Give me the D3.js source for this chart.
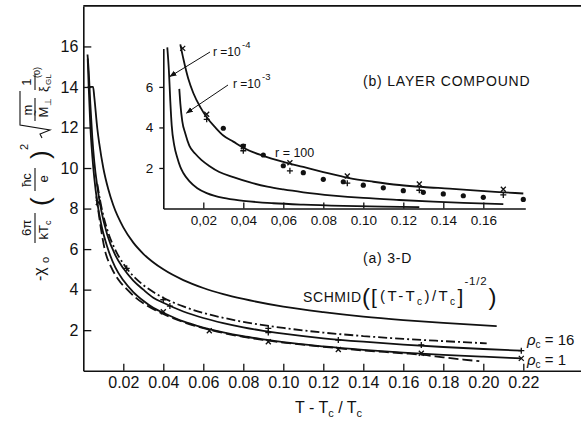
<!DOCTYPE html>
<html>
<head>
<meta charset="utf-8">
<script src="https://cdn.jsdelivr.net/npm/d3@7"></script>
<style>
  body { margin: 0; background: #fff; }
  text { font-family: "Liberation Sans", Arial, sans-serif; fill: #111; }
</style>
</head>
<body>
<svg id="chart" width="581" height="421"></svg>
<script>
// ---- main panel (a) 3-D ----
const mainTicksX = [0.02, 0.04, 0.06, 0.08, 0.10, 0.12, 0.14, 0.16, 0.18, 0.20, 0.22];
const mainTickLabelsX = ["0.02", "0.04", "0.06", "0.08", "0.10", "0.12", "0.14", "0.16", "0.18", "0.20", "0.22"];
const mainTicksY = [2, 4, 6, 8, 10, 12, 14, 16];

// [T-Tc/Tc, value]
const schmid = [[0.0022,14.0],[0.0049,14.0],[0.0055,13.5],[0.007,11.95],[0.008,11.2],[0.010,10.0],[0.0125,8.95],[0.015,8.16],
  [0.020,7.07],[0.025,6.32],[0.030,5.77],[0.040,5.0],[0.050,4.47],[0.060,4.08],[0.070,3.78],[0.080,3.54],
  [0.100,3.16],[0.120,2.89],[0.140,2.67],[0.160,2.5],[0.180,2.36],[0.2067,2.2]];
const rho16 = [[0.0021,15.6],[0.0027,14.8],[0.0035,13.2],[0.0045,11.5],[0.0055,10.3],[0.007,9.1],[0.009,7.9],[0.012,6.7],
  [0.016,5.7],[0.020,5.05],[0.025,4.45],[0.030,4.0],[0.035,3.6],[0.040,3.35],[0.050,2.92],[0.060,2.6],[0.070,2.35],
  [0.080,2.14],[0.090,1.97],[0.100,1.83],[0.120,1.6],[0.140,1.43],[0.160,1.29],[0.180,1.17],[0.200,1.07],[0.219,0.99]];
const rho1 = [[0.0022,15.4],[0.0027,14.0],[0.0035,12.1],[0.0045,10.6],[0.0055,9.5],[0.007,8.3],[0.009,7.2],[0.012,6.1],
  [0.016,5.1],[0.020,4.46],[0.025,3.88],[0.030,3.45],[0.035,3.1],[0.040,2.86],[0.050,2.43],[0.060,2.13],[0.070,1.89],
  [0.080,1.7],[0.090,1.55],[0.100,1.41],[0.120,1.2],[0.140,1.03],[0.160,0.89],[0.180,0.78],[0.200,0.69],[0.219,0.61]];
const dashDot = [[0.007,9.2],[0.009,8.1],[0.012,6.95],[0.016,5.96],[0.020,5.28],[0.025,4.67],[0.030,4.23],[0.035,3.88],
  [0.040,3.6],[0.050,3.17],[0.060,2.85],[0.070,2.61],[0.080,2.41],[0.090,2.25],[0.100,2.11],[0.120,1.88],[0.140,1.71],
  [0.160,1.57],[0.180,1.46],[0.2017,1.35]];
const dashed = [[0.0065,8.6],[0.0075,7.9],[0.009,6.9],[0.0108,5.95],[0.014,5.1],[0.0175,4.5],[0.022,4.0],[0.026,3.62],
  [0.032,3.2],[0.040,2.8],[0.050,2.4],[0.060,2.1],[0.070,1.86],[0.080,1.67],[0.090,1.52],[0.100,1.39],[0.120,1.18],
  [0.140,1.0],[0.160,0.86],[0.170,0.78],[0.180,0.66],[0.190,0.55],[0.198,0.47]];
const mainPlus = [[0.0217,5.05],[0.040,3.5],[0.0433,3.19],[0.0925,2.09],[0.0925,1.88],[0.1275,1.51],[0.169,1.27],[0.219,0.99]];
const mainCross = [[0.0075,8.3],[0.040,2.91],[0.063,1.97],[0.0925,1.43],[0.1275,1.05],[0.169,0.86],[0.219,0.61]];

// ---- inset (b) layer compound ----
const insetTicksX = [0.02, 0.04, 0.06, 0.08, 0.10, 0.12, 0.14, 0.16];
const insetTickLabelsX = ["0,02", "0,04", "0,06", "0.08", "0.10", "0.12", "0.14", "0.16"];
const insetTicksY = [2, 4, 6];

const r4 = [[0.0020,7.95],[0.0028,6.8],[0.0035,5.3],[0.0042,4.1],[0.0055,3.1],[0.007,2.5],[0.0085,2.05],[0.010,1.75],
  [0.013,1.35],[0.017,1.0],[0.022,0.75],[0.030,0.52],[0.040,0.38],[0.055,0.26],[0.070,0.19],[0.090,0.13],[0.110,0.09],[0.128,0.07]];
const r3 = [[0.0080,5.9],[0.0085,5.2],[0.0095,4.3],[0.011,3.7],[0.013,3.1],[0.016,2.7],[0.019,2.4],[0.023,2.1],[0.028,1.8],
  [0.035,1.55],[0.043,1.3],[0.052,1.08],[0.060,0.94],[0.070,0.8],[0.085,0.64],[0.100,0.52],[0.118,0.42],[0.135,0.34],
  [0.150,0.28],[0.170,0.22]];
const r100 = [[0.0085,8.1],[0.010,7.4],[0.0125,6.4],[0.015,5.7],[0.0185,5.0],[0.0217,4.5],[0.026,4.0],[0.030,3.6],[0.035,3.3],
  [0.040,3.0],[0.050,2.6],[0.060,2.3],[0.070,2.05],[0.080,1.8],[0.093,1.5],[0.105,1.32],[0.118,1.16],[0.130,1.06],
  [0.143,0.98],[0.157,0.88],[0.170,0.8],[0.180,0.74]];
const dotT = [0.03,0.04,0.05,0.06,0.07,0.08,0.09,0.10,0.11,0.12,0.13,0.14,0.15,0.16,0.18];
const dotV = [3.96,3.08,2.64,2.11,1.77,1.44,1.32,1.15,1.02,0.88,0.80,0.72,0.63,0.55,0.45];
const insetCross = [[0.0097,7.9],[0.0217,4.65],[0.040,3.05],[0.0633,2.26],[0.092,1.6],[0.128,1.21],[0.170,0.95]];
const insetPlus = [[0.0217,4.4],[0.040,2.85],[0.0633,1.86],[0.092,1.25],[0.128,0.9],[0.170,0.67]];

const svg = d3.select("#chart");
const ink = "#111";

const x = d3.scaleLinear().domain([0, 0.25]).range([83.3, 583.3]);
const y = d3.scaleLinear().domain([0, 18]).range([370.7, 5.9]);
const ix = d3.scaleLinear().domain([0, 0.181]).range([163.3, 525.3]);
const iy = d3.scaleLinear().domain([0, 7.9]).range([208.5, 48.4]);

function styleAxis(g, size) {
  g.select(".domain").attr("stroke", ink).attr("stroke-width", 1.6);
  g.selectAll(".tick line").attr("stroke", ink).attr("stroke-width", 1.3);
  g.selectAll(".tick text").attr("fill", ink).attr("font-size", size)
    .attr("font-family", "Liberation Sans, Arial, sans-serif");
}

// main axes
svg.append("g").attr("transform", `translate(0,${y(0)})`)
  .call(d3.axisBottom(x).tickValues(mainTicksX).tickSize(-7).tickSizeOuter(0).tickPadding(6.4)
    .tickFormat((d, i) => mainTickLabelsX[i]))
  .call(g => styleAxis(g, 16));
svg.append("g").attr("transform", `translate(${x(0)},0)`)
  .call(d3.axisLeft(y).tickValues(mainTicksY).tickSize(-8).tickSizeOuter(0).tickPadding(5))
  .call(g => styleAxis(g, 16));
svg.append("line").attr("x1", x(0)).attr("x2", 581).attr("y1", y(18)).attr("y2", y(18))
  .attr("stroke", ink).attr("stroke-width", 1.6);

const line = d3.line().x(d => x(d[0])).y(d => y(d[1])).curve(d3.curveMonotoneX);
const ln = svg.append("g").attr("fill", "none").attr("stroke", ink).attr("stroke-width", 1.8);
ln.append("path").attr("d", line(schmid));
ln.append("path").attr("d", line(rho16));
ln.append("path").attr("d", line(rho1));
ln.append("path").attr("d", line(dashDot)).attr("stroke-dasharray", "9,3,2,3");
ln.append("path").attr("d", line(dashed)).attr("stroke-dasharray", "10,4");

function plus(g, px, py, s) {
  g.append("path").attr("d", `M${px - s},${py}H${px + s}M${px},${py - s}V${py + s}`);
}
function cross(g, px, py, s) {
  g.append("path").attr("d", `M${px - s},${py - s}L${px + s},${py + s}M${px - s},${py + s}L${px + s},${py - s}`);
}
const mk = svg.append("g").attr("stroke", ink).attr("stroke-width", 1.3).attr("fill", "none");
mainPlus.forEach(d => plus(mk, x(d[0]), y(d[1]), 3));
mainCross.forEach(d => cross(mk, x(d[0]), y(d[1]), 2.5));

// inset axes
svg.append("g").attr("transform", `translate(0,${iy(0)})`)
  .call(d3.axisBottom(ix).tickValues(insetTicksX).tickSize(-6).tickSizeOuter(0).tickPadding(6.5)
    .tickFormat((d, i) => insetTickLabelsX[i]))
  .call(g => styleAxis(g, 13.5));
svg.append("g").attr("transform", `translate(${ix(0)},0)`)
  .call(d3.axisLeft(iy).tickValues(insetTicksY).tickSize(4).tickSizeOuter(0).tickPadding(6))
  .call(g => styleAxis(g, 13.5));

const iline = d3.line().x(d => ix(d[0])).y(d => iy(d[1])).curve(d3.curveMonotoneX);
const il = svg.append("g").attr("fill", "none").attr("stroke", ink).attr("stroke-width", 1.8);
il.append("path").attr("d", iline(r4));
il.append("path").attr("d", iline(r3));
il.append("path").attr("d", iline(r100));

svg.append("g").selectAll("circle").data(dotT).join("circle")
  .attr("cx", d => ix(d)).attr("cy", (d, i) => iy(dotV[i])).attr("r", 2.6).attr("fill", ink);
const imk = svg.append("g").attr("stroke", ink).attr("stroke-width", 1.3).attr("fill", "none");
insetCross.forEach(d => cross(imk, ix(d[0]), iy(d[1]), 2.5));
insetPlus.forEach(d => plus(imk, ix(d[0]), iy(d[1]), 3));

// arrows to r labels
svg.append("defs").append("marker").attr("id", "ah").attr("viewBox", "0 0 10 10")
  .attr("refX", 9).attr("refY", 5).attr("markerWidth", 7).attr("markerHeight", 7).attr("orient", "auto")
  .append("path").attr("d", "M0,1L10,5L0,9z").attr("fill", ink);
svg.append("line").attr("x1", 210).attr("y1", 52).attr("x2", 170).attr("y2", 76.5)
  .attr("stroke", ink).attr("stroke-width", 1).attr("marker-end", "url(#ah)");
svg.append("line").attr("x1", 228).attr("y1", 85).attr("x2", 186.5).attr("y2", 113)
  .attr("stroke", ink).attr("stroke-width", 1).attr("marker-end", "url(#ah)");

function txt(px, py, s, size, anchor) {
  return svg.append("text").attr("x", px).attr("y", py).attr("font-size", size)
    .attr("text-anchor", anchor || "start").text(s);
}
function after(t) { return t.node().getBBox().x + t.node().getBBox().width; }

const ra = txt(213, 56, "r =10", 12); txt(after(ra) + 1, 48, "-4", 9.5);
const rb = txt(233, 88, "r =10", 12); txt(after(rb) + 1, 80, "-3", 9.5);
txt(275, 157, "r = 100", 12.5);
txt(363, 86, "(b) LAYER COMPOUND", 14).attr("letter-spacing", 0.8);
txt(363, 263, "(a) 3-D", 14).attr("letter-spacing", 0.8);

// Schmid label
txt(303, 302, "SCHMID", 14).attr("letter-spacing", 0.6);
txt(362, 305, "(", 24); txt(371, 304, "[", 21);
const sm = txt(380, 301, "", 15).attr("letter-spacing", 2.4);
sm.append("tspan").text("(T-T");
sm.append("tspan").attr("font-size", 10).attr("dy", 4).text("c");
sm.append("tspan").attr("dy", -4).text(")/T");
sm.append("tspan").attr("font-size", 10).attr("dy", 4).text("c");
const smEnd = after(sm);
txt(smEnd, 304, "]", 21);
txt(smEnd + 7, 285, "-1/2", 11.5).attr("letter-spacing", 0.8);
txt(smEnd + 31, 305, ")", 24);

// rho labels
const p16 = txt(527, 345, "", 15);
p16.append("tspan").attr("font-style", "italic").text("ρ");
p16.append("tspan").attr("font-size", 10).attr("dy", 3).text("c");
p16.append("tspan").attr("dy", -3).text(" = 16");
const p1 = txt(527, 365, "", 15);
p1.append("tspan").attr("font-style", "italic").text("ρ");
p1.append("tspan").attr("font-size", 10).attr("dy", 3).text("c");
p1.append("tspan").attr("dy", -3).text(" = 1");

// x axis title
const xt = txt(295, 413, "", 16);
xt.append("tspan").text("T - T");
xt.append("tspan").attr("font-size", 11).attr("dy", 4).text("c");
xt.append("tspan").attr("dy", -4).text(" / T");
xt.append("tspan").attr("font-size", 11).attr("dy", 4).text("c");

// y axis title, rotated; local x runs bottom->top, local y positive = screen right
const yl = svg.append("g").attr("transform", "translate(40,178) rotate(-90)");
function lt(lx, ly, s, size, anchor) {
  return yl.append("text").attr("x", lx).attr("y", ly).attr("font-size", size)
    .attr("text-anchor", anchor || "start").text(s);
}
function bar(a, b, ly) {
  yl.append("line").attr("x1", a).attr("x2", b).attr("y1", ly).attr("y2", ly)
    .attr("stroke", ink).attr("stroke-width", 1.1);
}
lt(-103, 5, "-χ", 16); lt(-85, 9, "o", 11);
lt(-50, -9, "6π", 13, "middle"); bar(-65, -35, -5);
const kt = lt(-52, 8, "kT", 13, "middle"); kt.append("tspan").attr("font-size", 9).attr("dy", 3).text("c");
lt(-28, 9, "(", 26);
lt(-2, -9, "ħc", 13, "middle"); bar(-13, 10, -5); lt(-1, 8, "e", 13, "middle");
lt(19, 9, ")", 26); lt(28, -12, "2", 11);
yl.append("path").attr("d", "M40,2L44,0L48,10L53,-20H87").attr("fill", "none").attr("stroke", ink).attr("stroke-width", 1.1);
lt(68, -8, "m", 13, "middle"); bar(57, 80, -5);
lt(66, 8, "M", 13, "middle"); lt(62, -1, "~", 10); lt(72, 11, "⊥", 9);
lt(96, -9, "1", 13, "middle"); bar(88, 104, -5);
lt(86, 8, "ξ", 13); lt(93, 11, "GL", 8); lt(100, 0, "(0)", 9);
</script>
</body>
</html>
